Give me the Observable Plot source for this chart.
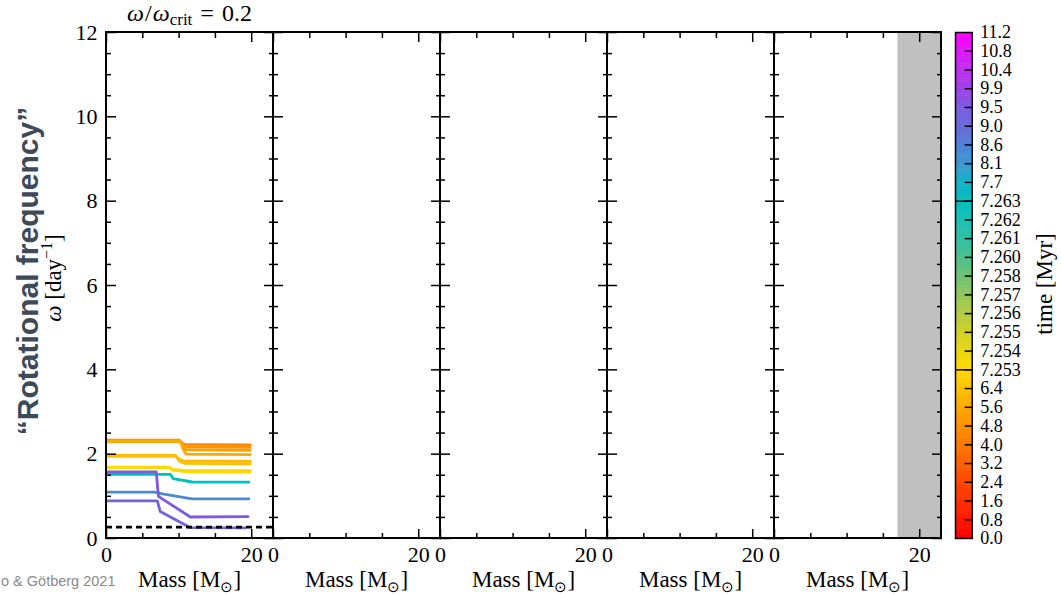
<!DOCTYPE html>
<html><head><meta charset="utf-8">
<script src="https://cdn.jsdelivr.net/npm/d3@7"></script>
<script src="https://cdn.jsdelivr.net/npm/@observablehq/plot@0.6"></script>
<style>
html,body{margin:0;padding:0;background:#fff;}
#wrap{position:relative;width:1061px;height:594px;overflow:hidden;background:#fff;}
#wrap svg{position:absolute;top:0;overflow:visible;}
</style></head><body><div id="wrap"></div>
<script>
// ---------- data ----------
const panels = [0, 1, 2, 3, 4];
const xDomain = [0, 23];
const yDomain = [0, 12];
const yMajorTicks = [0, 2, 4, 6, 8, 10, 12];
const yMinorTicks = [0.5, 1, 1.5, 2.5, 3, 3.5, 4.5, 5, 5.5, 6.5, 7, 7.5, 8.5, 9, 9.5, 10.5, 11, 11.5];
const xMajorTicks = [0, 20];
const xMinorTicks = [5, 10, 15];
const shadedRegion = [17, 23];          // grey band, last panel
const criticalOmega = 0.27;             // dashed line, first panel

const profileTimes = [4.6, 4.9, 5.3, 5.6, 6.1, 6.4, 7.1, 7.253, 7.263, 8.4, 9.2, 9.5];
const profileMass = [
  [0, 10.0, 10.3, 10.7, 19.8],
  [0, 10.1, 10.4, 10.8, 19.8],
  [0, 10.1, 10.5, 10.9, 19.8],
  [0, 10.2, 10.6, 11.0, 19.8],
  [0, 9.5, 9.9, 10.6, 19.8],
  [0, 9.6, 10.0, 10.8, 19.8],
  [0, 8.6, 9.0, 11.1, 19.8],
  [0, 8.7, 9.1, 11.1, 19.8],
  [0, 8.8, 9.2, 11.8, 19.6],
  [0, 6.7, 7.7, 11.8, 19.6],
  [0, 7.0, 7.4, 11.5, 19.1],
  [0, 6.85, 7.15, 11.55, 19.5]
];
const profileOmega = [
  [2.33, 2.33, 2.28, 2.23, 2.22],
  [2.32, 2.32, 2.25, 2.17, 2.16],
  [2.31, 2.31, 2.20, 2.10, 2.09],
  [2.30, 2.30, 2.10, 2.00, 1.99],
  [1.97, 1.97, 1.90, 1.84, 1.83],
  [1.95, 1.95, 1.84, 1.78, 1.77],
  [1.69, 1.69, 1.64, 1.61, 1.61],
  [1.68, 1.68, 1.62, 1.58, 1.57],
  [1.52, 1.52, 1.42, 1.34, 1.335],
  [1.10, 1.10, 1.06, 0.94, 0.94],
  [0.89, 0.89, 0.64, 0.26, 0.25],
  [1.58, 1.58, 1.00, 0.51, 0.52]
];

const cbarLabels = ["0.0","0.8","1.6","2.4","3.2","4.0","4.8","5.6","6.4",
  "7.253","7.254","7.255","7.256","7.257","7.258","7.260","7.261","7.262","7.263",
  "7.7","8.1","8.6","9.0","9.5","9.9","10.4","10.8","11.2"];
const cbarSegmentTimes = [0, 7.253, 7.263, 11.2];
const cbarSegmentIndex = [0, 9, 18, 27];
const cbarStopIndex  = [0, 9, 10, 12, 14, 16, 18, 19, 20, 21, 22, 23, 24, 25, 26, 27];
const cbarStopColors = ["#ff0000", "#ffda00", "#e8d610", "#b4cc44", "#6cc274", "#30c0a4", "#00c0c0",
  "#14b2c8", "#3c98d0", "#5080d8", "#6a6ad8", "#7c5ce0", "#a040e8", "#c030f0", "#e018f8", "#ff00ff"];

// ---------- colour mapping ----------
const timeToIndex = d3.scaleLinear().domain(cbarSegmentTimes).range(cbarSegmentIndex);
const indexToColor = d3.scaleLinear().domain(cbarStopIndex).range(cbarStopColors).interpolate(d3.interpolateRgb);
const timeColor = t => indexToColor(timeToIndex(t));

const rows = [];
profileTimes.forEach((t, k) => {
  profileMass[k].forEach((m, j) => rows.push({id: k, t, mass: m, omega: profileOmega[k][j], panel: panels[0]}));
});

const serif = "'Liberation Serif', 'Times New Roman', serif";
const sans = "'Liberation Sans', Arial, sans-serif";
const FS = 22;
const tickStyle = {stroke: "black", strokeWidth: 1.5, fill: "none", label: null, facetAnchor: null};

const main = Plot.plot({
  width: 1061, height: 594,
  marginLeft: 104, marginRight: 118.5, marginTop: 32, marginBottom: 56,
  style: {fontFamily: serif, fontSize: FS + "px", background: "transparent", color: "black"},
  fx: {domain: panels, padding: 0, axis: null},
  x: {domain: xDomain},
  y: {domain: yDomain},
  marks: [
    Plot.rect([shadedRegion], {x1: d => d[0], x2: d => d[1], fx: () => panels[4], fill: "#c0c0c0"}),
    Plot.line(rows, {x: "mass", y: "omega", z: "id", fx: "panel", stroke: d => timeColor(d.t), strokeWidth: 2.8}),
    Plot.ruleY([criticalOmega], {fx: () => panels[0], stroke: "black", strokeWidth: 2.6, strokeDasharray: "6,4"}),
    // panel frames (one per panel)
    Plot.rect(panels, {fx: d => d, fill: "none", stroke: "black", strokeWidth: 2}),
    // inward ticks on all panel edges
    Plot.axisY(yMajorTicks, {anchor: "left", tickSize: -10, ...tickStyle}),
    Plot.axisY(yMinorTicks, {anchor: "left", tickSize: -5, ...tickStyle}),
    Plot.axisY(yMajorTicks, {anchor: "right", tickSize: -10, ...tickStyle}),
    Plot.axisY(yMinorTicks, {anchor: "right", tickSize: -5, ...tickStyle}),
    Plot.axisX(xMajorTicks, {anchor: "bottom", tickSize: -9, ...tickStyle}),
    Plot.axisX(xMinorTicks, {anchor: "bottom", tickSize: -5, ...tickStyle}),
    Plot.axisX(xMajorTicks, {anchor: "top", tickSize: -9, ...tickStyle}),
    Plot.axisX(xMinorTicks, {anchor: "top", tickSize: -5, ...tickStyle}),
    // tick labels
    Plot.axisY(yMajorTicks, {anchor: "left", facetAnchor: "left", tickSize: 0, tickPadding: 9, stroke: "none", fill: "black", label: null, fontSize: FS}),
    Plot.axisX(xMajorTicks, {anchor: "bottom", tickSize: 0, tickPadding: 8, stroke: "none", fill: "black", label: null, fontSize: FS})
  ]
});

const fx = main.scale("fx");
const svg = d3.select(main);

// Mass labels under each panel
panels.forEach(p => {
  const cx = fx.apply(p) + fx.bandwidth / 2;
  const t = svg.append("text").attr("x", cx).attr("y", 587).attr("text-anchor", "middle")
    .attr("font-family", serif).attr("font-size", 23).attr("fill", "black");
  t.append("tspan").text("Mass [M");
  t.append("tspan").attr("dy", 5).attr("font-size", 15).text("⊙");
  t.append("tspan").attr("dy", -5).text("]");
});

// Title above first panel
{
  const cx = fx.apply(panels[0]) + fx.bandwidth / 2;
  const t = svg.append("text").attr("x", cx).attr("y", 21).attr("text-anchor", "middle")
    .attr("font-family", serif).attr("font-size", 24).attr("fill", "black");
  t.append("tspan").attr("font-style", "italic").text("ω");
  t.append("tspan").attr("dx", 1).text("/");
  t.append("tspan").attr("dx", 1).attr("font-style", "italic").text("ω");
  t.append("tspan").attr("dy", 4).attr("font-size", 17).text("crit");
  t.append("tspan").attr("dy", -4).attr("dx", 8).text("=");
  t.append("tspan").attr("dx", 8).text("0.2");
}

// Y labels
svg.append("text").attr("transform", "translate(38,271) rotate(-90)").attr("text-anchor", "middle")
  .attr("font-family", sans).attr("font-weight", "bold")
  .attr("font-size", 30).attr("fill", "#3d4a5a").text("“Rotational frequency”");
{
  const t = svg.append("text").attr("transform", "translate(61,278) rotate(-90)").attr("text-anchor", "middle")
    .attr("font-family", serif).attr("font-size", 23).attr("fill", "black");
  t.append("tspan").attr("font-style", "italic").text("ω");
  t.append("tspan").text(" [day");
  t.append("tspan").attr("dy", -9).attr("font-size", 16).text("−1");
  t.append("tspan").attr("dy", 9).text("]");
}

// Caption
svg.append("text").attr("x", 1).attr("y", 586).attr("text-anchor", "start").attr("font-family", sans)
  .attr("font-size", 14.5).attr("fill", "#8a8a8a").text("o & Götberg 2021");

// ---------- colour bar ----------
const step = 0.1;
const slices = d3.range(0, 27, step);
const ticksIdx = cbarLabels.map((_, i) => i);
const cbarFS = 18;
const cbar = Plot.plot({
  width: 121, height: 594,
  marginLeft: 15, marginRight: 89.3, marginTop: 32, marginBottom: 56,
  style: {fontFamily: serif, fontSize: cbarFS + "px", background: "transparent", color: "black"},
  x: {domain: [0, 1], axis: null},
  y: {domain: [0, 27], axis: null},
  marks: [
    Plot.rect(slices, {y1: d => d, y2: d => Math.min(27, d + step * 1.3), fill: d => indexToColor(d + step / 2)}),
    Plot.ruleY(cbarSegmentIndex.slice(1, -1), {stroke: "black", strokeWidth: 1.5}),
    Plot.frame({stroke: "black", strokeWidth: 1.5}),
    Plot.axisY(ticksIdx.slice(1, -1), {anchor: "right", tickSize: -8, stroke: "black", strokeWidth: 1.5, fill: "none", label: null}),
    Plot.axisY(ticksIdx, {anchor: "right", tickSize: 0, tickPadding: 8, stroke: "none", fill: "black", label: null,
      tickFormat: i => cbarLabels[i], fontSize: cbarFS})
  ]
});
cbar.style.left = "940px";
d3.select(cbar).append("text").attr("transform", "translate(112,284) rotate(-90)").attr("text-anchor", "middle")
  .attr("font-family", serif).attr("font-size", 23).attr("fill", "black").text("time [Myr]");

const wrap = document.getElementById("wrap");
main.style.left = "0px";
wrap.appendChild(main);
wrap.appendChild(cbar);
</script>
</body></html>
